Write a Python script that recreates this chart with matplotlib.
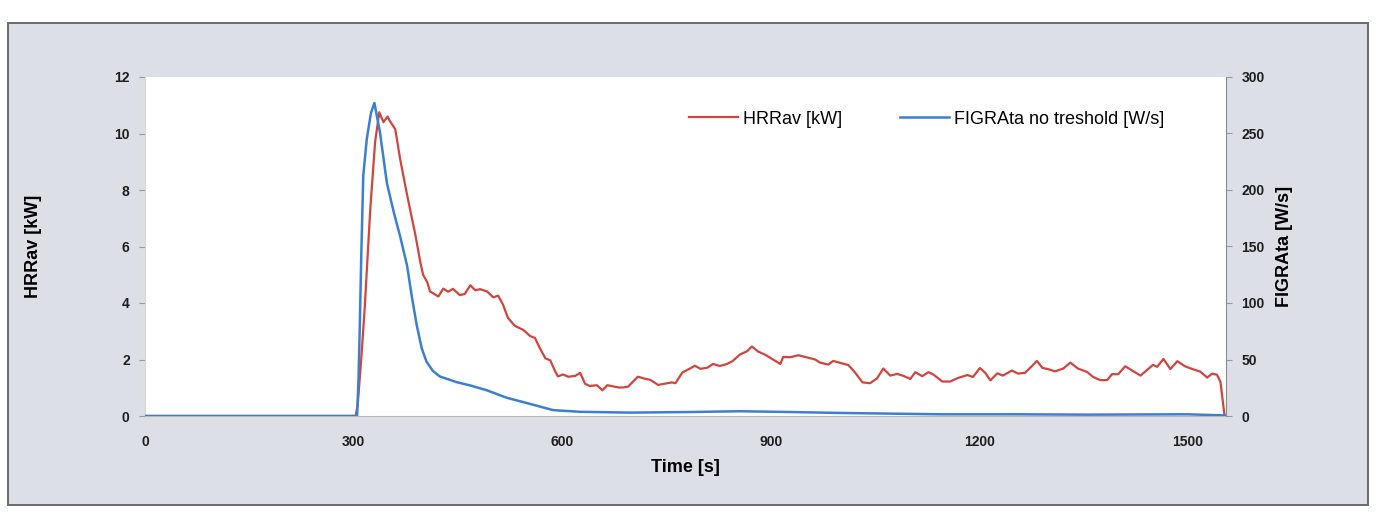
import numpy as np
import matplotlib
matplotlib.use('Agg')
import matplotlib.pyplot as plt

plt.rcParams['font.family'] = ['Liberation Sans', 'DejaVu Sans']

# HRRav [kW]
hrr_t = [0, 300, 303, 306, 311, 316, 324, 331, 337, 343, 349, 352, 360, 367, 374, 381,
         389, 396, 400, 406, 410, 422, 429, 436, 443, 453, 460, 468, 475, 482, 492,
         501, 508, 515, 522, 532, 544, 554, 561, 568, 576, 583, 590, 594, 601, 609,
         619, 626, 633, 640, 650, 658, 665, 673, 681, 688, 695, 702, 709, 719, 727,
         738, 751, 758, 763, 773, 784, 791, 799, 809, 817, 827, 837, 845, 856, 866,
         873, 882, 892, 902, 914, 918, 928, 940, 953, 964, 971, 983, 990, 1000, 1012,
         1022, 1032, 1043, 1053, 1062, 1072, 1082, 1091, 1101, 1108, 1118, 1127, 1134,
         1147, 1158, 1170, 1183, 1191, 1201, 1209, 1216, 1226, 1234, 1247, 1256, 1266,
         1276, 1283, 1291, 1299, 1309, 1321, 1331, 1342, 1355, 1364, 1374, 1384, 1391,
         1400, 1410, 1420, 1432, 1442, 1450, 1456, 1465, 1475, 1485, 1496, 1508, 1518,
         1528, 1535, 1542, 1547, 1553]
hrr_kw = [0, 0, 0, 0.4, 2.0, 3.8, 7.3, 9.7, 10.75, 10.4, 10.6, 10.45, 10.15, 9.1, 8.2, 7.35,
          6.4, 5.45, 5.0, 4.74, 4.41, 4.23, 4.51, 4.40, 4.50, 4.28, 4.32, 4.63, 4.45, 4.49, 4.41,
          4.20, 4.26, 3.94, 3.48, 3.19, 3.05, 2.83, 2.76, 2.40, 2.04, 1.97, 1.58, 1.40, 1.47, 1.39,
          1.42, 1.53, 1.14, 1.06, 1.09, 0.91, 1.09, 1.05, 1.01, 1.01, 1.04, 1.22, 1.39, 1.32, 1.28,
          1.10, 1.16, 1.19, 1.16, 1.54, 1.68, 1.78, 1.67, 1.71, 1.84, 1.77, 1.84, 1.94, 2.18, 2.29,
          2.46, 2.28, 2.17, 2.02, 1.84, 2.09, 2.08, 2.15, 2.07, 2.00, 1.89, 1.82, 1.95, 1.88, 1.80,
          1.52, 1.19, 1.16, 1.33, 1.68, 1.43, 1.49, 1.42, 1.31, 1.55, 1.41, 1.55, 1.47,
          1.22, 1.22, 1.35, 1.45, 1.38, 1.70, 1.52, 1.26, 1.51, 1.43, 1.61, 1.50, 1.53,
          1.77, 1.95, 1.70, 1.66, 1.58, 1.68, 1.89, 1.68, 1.56, 1.38, 1.27, 1.27, 1.48,
          1.48, 1.76, 1.61, 1.43, 1.64, 1.81, 1.74, 2.02, 1.66, 1.94, 1.76, 1.65, 1.57,
          1.36, 1.50, 1.46, 1.21, 0]

# FIGRAta no treshold [W/s]
figra_t = [0, 305, 307, 309, 311, 314, 319, 325, 330, 338, 348, 358, 367, 377, 384, 391,
           398, 405, 414, 424, 448, 468, 492, 520, 549, 587, 626, 698, 780, 856, 930,
           1000, 1144, 1250, 1355, 1450, 1500, 1553]
figra_ws = [0, 0, 30, 80, 140, 213, 245, 268, 277, 251, 206, 180, 159, 133, 105, 80,
            60, 48, 40, 35, 30, 27, 22.7, 16.2, 11.5, 5.2, 3.7, 3.0, 3.5, 4.2, 3.5,
            2.7, 1.5, 1.5, 1.2, 1.4, 1.5, 0.5]

red = '#d2443c'
blue = '#3b7fd2'

fig = plt.figure(figsize=(13.79, 5.13), dpi=100)
fig.patch.set_facecolor('white')

# grey chart area behind the plot
bg = fig.add_axes([8 / 1379, 1 - 505 / 513, 1360 / 1379, 482 / 513])
bg.set_facecolor('#dcdfe5')
bg.set_xticks([])
bg.set_yticks([])
for s in bg.spines.values():
    s.set_color('#6a6a6a')
    s.set_linewidth(1.4)

ax = fig.add_axes([145 / 1379, 1 - 416 / 513, 1081 / 1379, 339 / 513])
ax.set_facecolor('white')
ax2 = ax.twinx()

l1, = ax.plot(hrr_t, hrr_kw, color=red, lw=1.6, label='HRRav [kW]')
l2, = ax2.plot(figra_t, figra_ws, color=blue, lw=1.8, label='FIGRAta no treshold [W/s]')

ax.set_xlim(0, 1555)
ax.set_ylim(0, 12)
ax2.set_ylim(0, 300)
ax.set_xticks(np.arange(0, 1501, 300))
ax.set_yticks(np.arange(0, 13, 2))
ax2.set_yticks(np.arange(0, 301, 50))

for a in (ax, ax2):
    a.tick_params(labelsize=10, colors='#1e1e1e', length=4, width=0.8, direction='out')
    for s in a.spines.values():
        s.set_visible(False)
    for lab in a.get_xticklabels() + a.get_yticklabels():
        lab.set_fontweight('bold')
ax.tick_params(axis='y', pad=7, color='#999999')
ax2.tick_params(axis='y', pad=7, color='#999999')
ax.tick_params(axis='x', pad=14, length=0)
ax.spines['bottom'].set_visible(True)
ax.spines['bottom'].set_color('#b8b8b8')
ax2.spines['right'].set_visible(True)
ax2.spines['right'].set_color('#8a8a8a')
ax.spines['left'].set_visible(True)
ax.spines['left'].set_color('#d8d8d8')

ax.set_xlabel('Time [s]', fontsize=13, fontweight='bold', labelpad=7)
ax.set_ylabel('HRRav [kW]', fontsize=13, fontweight='bold', labelpad=52)
ax2.set_ylabel('FIGRAta [W/s]', fontsize=13, fontweight='bold', rotation=90, labelpad=8)

ax2.legend([l1, l2], [l1.get_label(), l2.get_label()], ncol=2, frameon=False,
           fontsize=13, loc='center left', bbox_to_anchor=(0.488, 0.876),
           handlelength=2.7, handletextpad=0.3, columnspacing=3.2)

plt.savefig('out.png', dpi=100)
